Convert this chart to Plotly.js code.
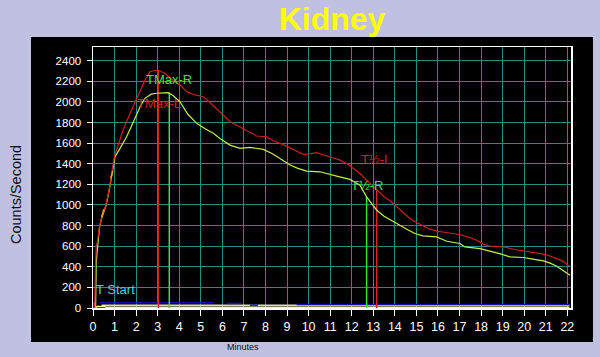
<!DOCTYPE html>
<html>
<head>
<meta charset="utf-8">
<script src="https://cdn.plot.ly/plotly-3.0.1.min.js"></script>
<style>html,body{margin:0;padding:0;background:#C0C0E0;}#chart{width:600px;height:357px;}</style>
</head>
<body>
<div id="chart"></div>
<script>
// Left kidney (red) curve: minutes / counts per second
const redMinutes = [0, 0.08, 0.11, 0.15, 0.2, 0.3, 0.4, 0.5, 0.6, 0.75, 0.9, 1.0, 1.2, 1.4, 1.7, 1.95, 2.2, 2.4, 2.64, 2.85, 3.05, 3.3, 3.6, 3.88, 4.04, 4.35, 4.7, 5.12, 5.45, 5.74, 6.0, 6.35, 6.66, 6.97, 7.3, 7.59, 8.06, 8.4, 8.98, 9.4, 9.75, 10.05, 10.37, 10.7, 10.99, 11.4, 11.77, 12.08, 12.3, 12.54, 12.85, 13.16, 13.5, 13.78, 14.1, 14.4, 14.7, 15.0, 15.3, 15.63, 16.0, 16.3, 16.56, 17.0, 17.49, 17.8, 18.1, 18.41, 18.8, 19.19, 19.6, 19.96, 20.4, 20.89, 21.2, 21.51, 21.8, 22.09];
const redCounts = [0, 0, 350, 600, 640, 790, 880, 940, 1000, 1150, 1330, 1480, 1600, 1730, 1880, 1996, 2110, 2206, 2293, 2305, 2305, 2280, 2230, 2181, 2164, 2099, 2070, 2050, 1990, 1937, 1880, 1810, 1775, 1743, 1700, 1669, 1662, 1620, 1571, 1530, 1491, 1495, 1507, 1485, 1468, 1440, 1403, 1355, 1320, 1273, 1210, 1144, 1080, 1040, 980, 920, 869, 830, 800, 765, 745, 737, 729, 713, 684, 658, 620, 600, 597, 587, 565, 554, 535, 522, 505, 480, 455, 405];

// Right kidney (yellow-green) curve
const greenMinutes = [0.12, 0.15, 0.2, 0.3, 0.4, 0.5, 0.6, 0.75, 0.9, 1.02, 1.2, 1.56, 1.95, 2.2, 2.41, 2.7, 2.95, 3.2, 3.49, 3.7, 4.03, 4.4, 4.81, 5.2, 5.58, 5.89, 6.35, 6.82, 7.28, 7.9, 8.3, 8.67, 9.14, 9.5, 9.91, 10.53, 10.9, 11.3, 11.92, 12.38, 12.69, 13.16, 13.5, 13.93, 14.24, 14.6, 14.93, 15.3, 15.94, 16.41, 17.02, 17.25, 17.95, 18.41, 18.9, 19.34, 19.96, 20.4, 20.89, 21.2, 21.51, 21.8, 22.12];
const greenCounts = [0, 450, 560, 780, 870, 940, 990, 1140, 1320, 1468, 1530, 1662, 1841, 1960, 2035, 2075, 2084, 2088, 2090, 2065, 2002, 1880, 1792, 1740, 1695, 1646, 1581, 1549, 1559, 1539, 1500, 1452, 1387, 1355, 1329, 1322, 1300, 1280, 1248, 1192, 1079, 949, 890, 836, 804, 760, 723, 700, 690, 648, 626, 593, 577, 554, 525, 496, 490, 475, 457, 435, 405, 365, 318];

// Early orange overlay pieces
const orangeMinutes = [0.4, 0.5, null, 0.82, 0.92];
const orangeCounts = [880, 960, null, 1260, 1330];

// Low background curves
const whiteMinutes = [0.4, 22.1];
const whiteCounts = [27, 27];
const blueMinutes = [0.3, 5.6, null, 6.2, 6.9, null, 7.28, 7.65, null, 9.45, 22.1];
const blueCounts = [52, 52, null, 45, 45, null, 28, 28, null, 33, 33];
const yellowMinutes = [0.05, 0.15, 0.2, 0.35, 0.55, 0.6, 0.7, 22.1];
const yellowCounts = [0, 5, 15, 15, 18, 8, 8, 8];

// Markers (minutes, counts)
const tStart = [0.07, 60];
const tMaxL = [3.03, 2303];
const tMaxR = [3.54, 2090];
const tHalfL = [13.16, 1144];
const tHalfR = [12.69, 1079];

// Tick values
const xTicks = Array.from({length: 23}, (_, i) => i);
const yTicks = [0, 200, 400, 600, 800, 1000, 1200, 1400, 1600, 1800, 2000, 2200, 2400];

function vline(p, color) {
  return {x: [p[0], p[0]], y: [0, p[1]], mode: 'lines', line: {color: color, width: 1.5}, hoverinfo: 'skip', showlegend: false};
}

const traces = [
  {x: whiteMinutes, y: whiteCounts, mode: 'lines', line: {color: '#d8d8d8', width: 1.5}},
  {x: yellowMinutes, y: yellowCounts, mode: 'lines', line: {color: '#ffff90', width: 1.5}},
  {x: blueMinutes, y: blueCounts, mode: 'lines', line: {color: '#1010b0', width: 1.5}},
  vline(tStart, '#30d0d0'),
  vline(tMaxL, '#e02020'),
  vline(tMaxR, '#40e040'),
  vline(tHalfL, '#e02020'),
  vline(tHalfR, '#40e040'),
  {x: greenMinutes, y: greenCounts, mode: 'lines', line: {color: '#c0f050', width: 1.2}},
  {x: redMinutes, y: redCounts, mode: 'lines', line: {color: '#c82020', width: 1.2}},
  {x: orangeMinutes, y: orangeCounts, mode: 'lines', line: {color: '#f0a020', width: 1.5}}
];
traces.forEach(t => { t.showlegend = false; t.hoverinfo = 'skip'; });

const labelFont = {family: 'Liberation Sans, Arial, sans-serif', size: 13};
const ann = (x, y, text, color) => ({x: x, y: y, xref: 'x', yref: 'y', text: text, showarrow: false, xanchor: 'left', yanchor: 'middle', font: Object.assign({}, labelFont, {color: color})});

const layout = {
  width: 600, height: 357,
  margin: {l: 93, r: 29, t: 47, b: 49, pad: 0},
  paper_bgcolor: '#C0C0E0',
  plot_bgcolor: '#000000',
  title: {text: 'Kidney', x: 0.5, xref: 'paper', xanchor: 'center', y: 0.947, yref: 'container', yanchor: 'middle',
          font: {family: 'Liberation Sans, Arial, sans-serif', size: 32, color: '#ffff00', weight: 'bold'}},
  xaxis: {range: [0, 22.17], tickvals: xTicks, ticktext: xTicks.map(String), showgrid: true, gridcolor: '#2a8888', gridwidth: 1,
          zeroline: false, showline: true, linecolor: '#ffffff', linewidth: 1.5, mirror: true,
          ticks: 'outside', ticklen: 6, tickcolor: '#ffffff', tickwidth: 1,
          tickfont: {family: 'Liberation Sans, Arial, sans-serif', size: 12.5, color: '#ffffff'}, fixedrange: true},
  yaxis: {range: [0, 2533], tickvals: yTicks, ticktext: yTicks.map(String), showgrid: true, gridcolor: '#2a8888', gridwidth: 1,
          zeroline: false, showline: true, linecolor: '#ffffff', linewidth: 1.5, mirror: true,
          ticks: 'outside', ticklen: 5, tickcolor: '#ffffff', tickwidth: 1, ticklabelstandoff: 3,
          tickfont: {family: 'Liberation Sans, Arial, sans-serif', size: 11.5, color: '#ffffff'}, fixedrange: true},
  shapes: [
    {type: 'rect', xref: 'paper', yref: 'paper', x0: -0.1297, x1: 1.046, y0: -0.130, y1: 1.038,
     fillcolor: '#000000', line: {width: 0}, layer: 'below'}
  ],
  annotations: [
    ann(2.38, 2222, 'TMax-R', '#40e040'),
    ann(1.97, 1986, 'TMax-L', '#d02020'),
    ann(12.32, 1442, 'T½-L', '#d02020'),
    ann(11.89, 1192, 'T½-R', '#40e040'),
    ann(0.05, 182, 'T Start', '#40d8d8'),
    {xref: 'paper', yref: 'paper', x: -0.161, y: 0.433, text: 'Counts/Second', textangle: -90, showarrow: false,
     xanchor: 'center', yanchor: 'middle', font: {family: 'Liberation Sans, Arial, sans-serif', size: 14.5, color: '#101010'}},
    {xref: 'paper', yref: 'paper', x: 0.314, y: -0.149, text: 'Minutes', showarrow: false,
     xanchor: 'center', yanchor: 'middle', font: {family: 'Liberation Sans, Arial, sans-serif', size: 9, color: '#101010'}}
  ]
};

Plotly.newPlot('chart', traces, layout, {staticPlot: true, displayModeBar: false});
</script>
</body>
</html>
